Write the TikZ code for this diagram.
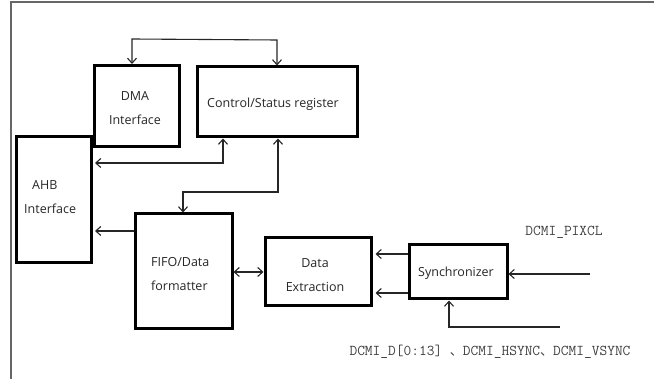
\documentclass[tikz,border=0pt]{standalone}
\usepackage{fontspec}
\setmainfont{Open Sans}
\newfontfamily\cjk{Noto Sans CJK SC}
\usetikzlibrary{arrows.meta}
\tikzset{
  blk/.style={draw=black, line width=3pt, inner sep=0pt},
  lbl/.style={font=\fontsize{12.5}{14}\selectfont, text=black!85, inner sep=0pt},
  sig/.style={font=\ttfamily\fontsize{15}{17}\selectfont, text=black!75, inner sep=0pt},
  link/.style={draw=black!85, line width=1.1pt, -{Straight Barb[length=5pt,width=9pt]}},
  both/.style={link, {Straight Barb[length=5pt,width=9pt]}-{Straight Barb[length=5pt,width=9pt]}},
}
\begin{document}
\begin{tikzpicture}[x=1pt, y=-1pt]
\useasboundingbox (0,0) rectangle (654,379);
% outer frame, top and left edges
\draw[black!60, line width=1.3pt] (11,379) -- (11,2) -- (654,2);

% blocks
\node[blk, minimum width=85pt, minimum height=81pt] (dma) at (137,106) {};
\node[blk, minimum width=160pt, minimum height=70pt] (csr) at (277,102) {};
\node[blk, minimum width=75pt, minimum height=126pt] (ahb) at (53.5,200) {};
\node[blk, minimum width=97pt, minimum height=115pt] (fifo) at (183.5,271.5) {};
\node[blk, minimum width=106pt, minimum height=68pt] (dex) at (318,272) {};
\node[blk, minimum width=98pt, minimum height=54pt] (sync) at (458,272) {};

% block captions
\node[lbl] (dmaA) at (135,96) {DMA};
\node[lbl] (dmaB) at (135,120) {Interface};
\node[lbl] (csrA) at (273,104) {Control/Status register};
\node[lbl, anchor=west] (ahbA) at (32,185) {AHB};
\node[lbl, anchor=west] (ahbB) at (24,209) {Interface};
\node[lbl, anchor=west] (fifoA) at (151,262) {FIFO/Data};
\node[lbl, anchor=west] (fifoB) at (151,286) {formatter};
\node[lbl] (dexA) at (315,263) {Data};
\node[lbl] (dexB) at (315,287) {Extraction};
\node[lbl] (syncA) at (456,273) {Synchronizer};

% external signal names
\node[sig] (pix) at (564,232) {DCMI\_PIXCL};
\node[sig] (dat) at (490,352) {DCMI\_D[0:13] {\cjk\fontsize{13}{15}\selectfont 、}DCMI\_HSYNC{\cjk\fontsize{13}{15}\selectfont 、}DCMI\_VSYNC};

% free ends of connectors
\coordinate (topL) at (132,39);
\coordinate (topR) at (277,40);
\coordinate (ahbIn) at (95,163);
\coordinate (ahbIn2) at (95,231);
\coordinate (busR) at (223,163);
\coordinate (midR) at (278,192);
\coordinate (midL) at (183,192);
\coordinate (pixIn) at (590,274);
\coordinate (datIn) at (560,327);
\coordinate (datC) at (449,327);

% DMA <-> control/status
\draw[both] (dma.north -| topL) -- (topL) -- (topR) -- (csr.north -| topR);
% control/status <-> AHB
\draw[both] (csr.south -| busR) -- (busR) -- (ahbIn);
% control/status <-> FIFO
\draw[both] (csr.south -| midR) -- (midR) -- (midL) -- (fifo.north -| midL);
% FIFO -> AHB
\draw[link] (fifo.west |- ahbIn2) -- (ahbIn2);
% FIFO <-> data extraction
\draw[both] (fifo.east |- 0,272) -- (dex.west |- 0,272);
% synchronizer -> data extraction
\draw[link] (sync.west |- 0,254) -- ([xshift=3pt]dex.east |- 0,254);
\draw[link] (sync.west |- 0,293) -- ([xshift=3pt]dex.east |- 0,293);
% pixel clock and data inputs
\draw[link] (pixIn) -- (sync.east |- pixIn);
\draw[link] (datIn) -- (datC) -- (sync.south -| datC);
\end{tikzpicture}
\end{document}
